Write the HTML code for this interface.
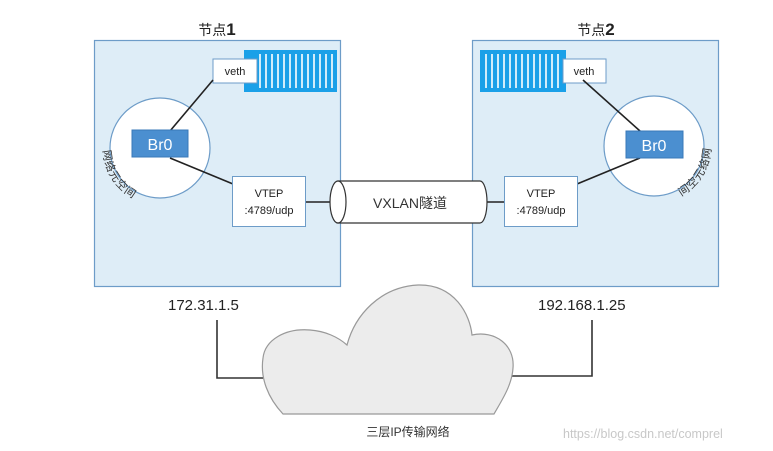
<!DOCTYPE html>
<html><head><meta charset="utf-8"><style>
body{margin:0;background:#fff;}
svg{display:block;font-family:"Liberation Sans","Noto Sans CJK SC",sans-serif;}
</style></head><body>
<svg width="773" height="451" viewBox="0 0 773 451" xmlns="http://www.w3.org/2000/svg">
<rect x="94.5" y="40.5" width="246" height="246" fill="#deedf7" stroke="#6d9cc8" stroke-width="1.2"/>
<rect x="472.5" y="40.5" width="246" height="246" fill="#deedf7" stroke="#6d9cc8" stroke-width="1.2"/>
<text x="217" y="35" font-size="14" text-anchor="middle" fill="#222">节点<tspan font-size="17" font-weight="bold">1</tspan></text>
<text x="596" y="35" font-size="14" text-anchor="middle" fill="#222">节点<tspan font-size="17" font-weight="bold">2</tspan></text>

<g>
<rect x="244" y="50" width="93" height="42" fill="#1aa0e8"/>
<g stroke="#fff" stroke-width="1.6">
<line x1="260" y1="54" x2="260" y2="88"/><line x1="266" y1="54" x2="266" y2="88"/><line x1="272" y1="54" x2="272" y2="88"/><line x1="278" y1="54" x2="278" y2="88"/><line x1="284" y1="54" x2="284" y2="88"/><line x1="290" y1="54" x2="290" y2="88"/><line x1="296" y1="54" x2="296" y2="88"/><line x1="302" y1="54" x2="302" y2="88"/><line x1="308" y1="54" x2="308" y2="88"/><line x1="314" y1="54" x2="314" y2="88"/><line x1="320" y1="54" x2="320" y2="88"/><line x1="326" y1="54" x2="326" y2="88"/><line x1="332" y1="54" x2="332" y2="88"/>
</g>
<rect x="213" y="59" width="44" height="24" fill="#fff" stroke="#6d9cc8"/>
<text x="235" y="75" font-size="11" text-anchor="middle" fill="#222">veth</text>
</g>
<g>
<rect x="480" y="50" width="86" height="42" fill="#1aa0e8"/>
<g stroke="#fff" stroke-width="1.6">
<line x1="486" y1="54" x2="486" y2="88"/><line x1="492" y1="54" x2="492" y2="88"/><line x1="498" y1="54" x2="498" y2="88"/><line x1="504" y1="54" x2="504" y2="88"/><line x1="510" y1="54" x2="510" y2="88"/><line x1="516" y1="54" x2="516" y2="88"/><line x1="522" y1="54" x2="522" y2="88"/><line x1="528" y1="54" x2="528" y2="88"/><line x1="534" y1="54" x2="534" y2="88"/><line x1="540" y1="54" x2="540" y2="88"/><line x1="546" y1="54" x2="546" y2="88"/><line x1="552" y1="54" x2="552" y2="88"/><line x1="558" y1="54" x2="558" y2="88"/>
</g>
<rect x="563" y="59" width="43" height="24" fill="#fff" stroke="#6d9cc8"/>
<text x="584" y="75" font-size="11" text-anchor="middle" fill="#222">veth</text>
</g>

<circle cx="160" cy="148" r="50" fill="#fff" stroke="#6d9cc8" stroke-width="1.2"/>
<circle cx="654" cy="146" r="50" fill="#fff" stroke="#6d9cc8" stroke-width="1.2"/>

<g stroke="#222" stroke-width="1.6">
<line x1="170" y1="131" x2="213" y2="80"/>
<line x1="170" y1="158" x2="233" y2="184"/>
<line x1="305" y1="202" x2="332" y2="202"/>
<line x1="487" y1="202" x2="504" y2="202"/>
<line x1="577" y1="184" x2="640" y2="158"/>
<line x1="583" y1="80" x2="640" y2="131"/>
</g>

<rect x="132" y="130" width="56" height="27" fill="#4b8fd0" stroke="#3a78b8"/>
<text x="160" y="150" font-size="16" text-anchor="middle" fill="#fff">Br0</text>
<rect x="626" y="131" width="57" height="27" fill="#4b8fd0" stroke="#3a78b8"/>
<text x="654" y="151" font-size="16" text-anchor="middle" fill="#fff">Br0</text>

<!-- left arc label: angles 172,160,148,136,124 at r=57 -->
<g font-size="11" fill="#333" text-anchor="middle">
<text transform="translate(103.6,156) rotate(82)">网</text>
<text transform="translate(106.4,167.5) rotate(70)">络</text>
<text transform="translate(111.7,178.2) rotate(58)">元</text>
<text transform="translate(119,187.6) rotate(46)">空</text>
<text transform="translate(128.1,195.3) rotate(34)">间</text>
<!-- right arc label: angles 8,20,32,44,56 -->
<text transform="translate(710.4,154) rotate(-82)">网</text>
<text transform="translate(707.6,165.5) rotate(-70)">络</text>
<text transform="translate(702.3,176.2) rotate(-58)">元</text>
<text transform="translate(695,185.6) rotate(-46)">空</text>
<text transform="translate(685.9,193.3) rotate(-34)">间</text>
</g>

<rect x="232.5" y="176.5" width="73" height="50" fill="#fff" stroke="#6d9cc8"/>
<text x="269" y="197" font-size="11" text-anchor="middle" fill="#222">VTEP</text>
<text x="269" y="214" font-size="11" text-anchor="middle" fill="#222">:4789/udp</text>
<rect x="504.5" y="176.5" width="73" height="50" fill="#fff" stroke="#6d9cc8"/>
<text x="541" y="197" font-size="11" text-anchor="middle" fill="#222">VTEP</text>
<text x="541" y="214" font-size="11" text-anchor="middle" fill="#222">:4789/udp</text>

<path d="M338 181 L480 181 A7 21 0 0 1 480 223 L338 223 Z" fill="#fff" stroke="#333" stroke-width="1.2"/>
<ellipse cx="338" cy="202" rx="8" ry="21" fill="#fff" stroke="#333" stroke-width="1.2"/>
<text x="410" y="208" font-size="14" text-anchor="middle" fill="#333">VXLAN隧道</text>

<text x="168" y="310" font-size="15" fill="#222">172.31.1.5</text>
<text x="538" y="310" font-size="15" fill="#222">192.168.1.25</text>
<polyline points="217,320 217,378 263,378" fill="none" stroke="#333" stroke-width="1.6"/>
<polyline points="592,320 592,376 510,376" fill="none" stroke="#333" stroke-width="1.6"/>

<path d="M283 414 C268 398 260 378 263 358 C265 340 285 328 310 330 C325 331 338 337 347 345 C355 315 380 287 418 285 C455 284 470 315 472 335 C495 330 515 345 513 368 C512 385 502 400 494 414 Z" fill="#ececec" stroke="#999" stroke-width="1.2"/>
<text x="408" y="436" font-size="12" text-anchor="middle" fill="#333">三层IP传输网络</text>
<text x="563" y="438" font-size="12.5" fill="#c8c8c8">https://blog.csdn.net/comprel</text>
</svg>
</body></html>
